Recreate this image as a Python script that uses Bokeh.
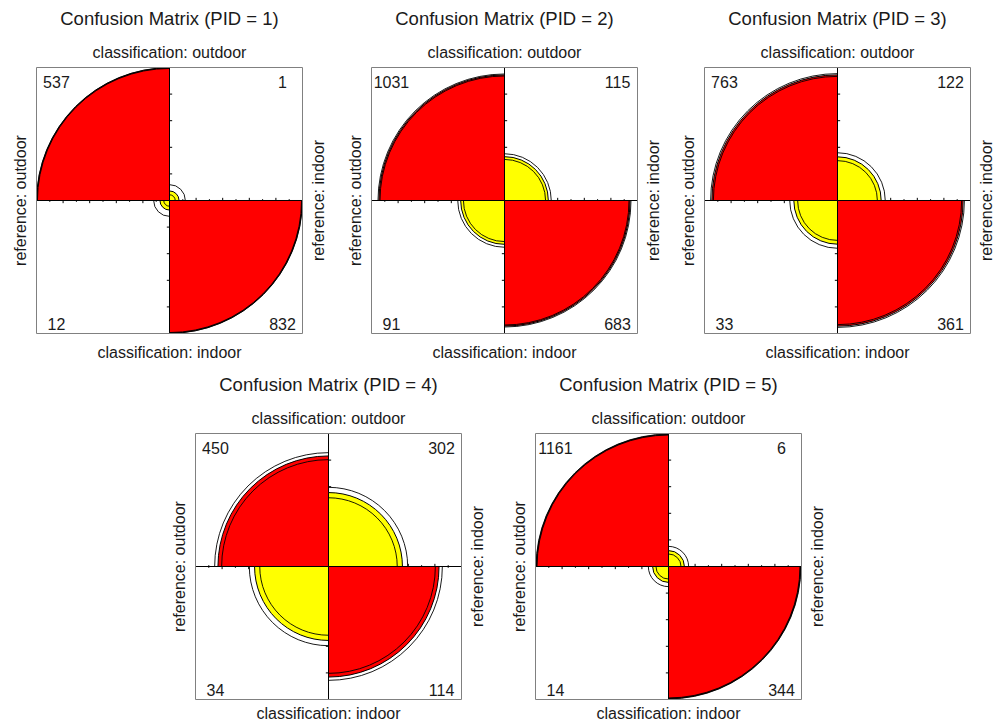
import numpy as np
from bokeh.plotting import figure
from bokeh.models import Range1d, Label, Spacer, ColumnDataSource
from bokeh.layouts import row, column
from bokeh.embed import file_html
from bokeh.resources import INLINE

# ---------------- data ----------------
pid = [1, 2, 3, 4, 5]
# cell counts (reference x classification)
n_top_left = [537, 1031, 763, 450, 1161]      # outdoor / outdoor
n_top_right = [1, 115, 122, 302, 6]           # reference indoor / class. outdoor
n_bottom_left = [12, 91, 33, 34, 14]          # reference outdoor / class. indoor
n_bottom_right = [832, 683, 361, 114, 344]    # indoor / indoor

title_text = "Confusion Matrix (PID = {})"
label_top = "classification: outdoor"
label_bottom = "classification: indoor"
label_left = "reference: outdoor"
label_right = "reference: indoor"

conf_level = 0.95
Z = 1.959963984540054  # qnorm(0.975)

# ---------------- style ----------------
RED = "#FF0000"
YELLOW = "#FFFF00"
FONT = "Liberation Sans"
TXT = "#1a1a1a"
BOX = 266
UNIT = BOX / 2.0
ML = 28
MR = 28
MT = 59

# quadrant angles (deg): TL, TR, BL, BR
Q_START = [90, 0, 180, 270]
Q_END = [180, 90, 270, 360]


def margins_fit(orr):
    s = np.sqrt(orr)
    u = s / (1.0 + s)
    return [u, 1 - u, 1 - u, u]


def make_panel(i, mb, bottom_off):
    a, b, c, d = n_top_left[i], n_top_right[i], n_bottom_left[i], n_bottom_right[i]
    counts = [a, b, c, d]
    orr = (a * d) / (b * c)
    fit = margins_fit(orr)
    big = RED if orr > 1 else YELLOW
    small = YELLOW if orr > 1 else RED
    colors = [big, small, small, big]

    W = BOX + ML + MR
    H = BOX + MT + mb
    p = figure(width=W, height=H,
               x_range=Range1d(-1 - ML / UNIT, 1 + MR / UNIT),
               y_range=Range1d(-1 - mb / UNIT, 1 + MT / UNIT),
               toolbar_location=None, output_backend="svg",
               x_axis_location=None, y_axis_location=None,
               min_border=0, outline_line_color=None,
               background_fill_color="white", border_fill_color="white")
    p.grid.visible = False

    # axes through the centre
    p.segment(x0=[-1, 0], y0=[0, -1], x1=[1, 0], y1=[0, 1],
              line_color="black", line_width=1)
    # tick marks
    hx = np.round(np.arange(-9, 10) / 10.0, 2)
    hx = hx[hx != 0]
    hl = np.where(np.round(np.abs(hx) * 10) % 2 == 0, 0.02, 0.01)
    p.segment(x0=hx, y0=-hl, x1=hx, y1=hl, line_color="black", line_width=1)
    vy = np.array([-0.8, -0.6, -0.4, -0.2, 0.2, 0.4, 0.6, 0.8])
    p.segment(x0=np.full(len(vy), -0.02), y0=vy, x1=np.full(len(vy), 0.02), y1=vy,
              line_color="black", line_width=1)

    # quarter circles
    src = ColumnDataSource(dict(
        x=[0] * 4, y=[0] * 4,
        r=[float(np.sqrt(f)) for f in fit],
        s=Q_START, e=Q_END, col=colors))
    p.wedge(x="x", y="y", radius="r", start_angle="s", end_angle="e",
            start_angle_units="deg", end_angle_units="deg",
            fill_color="col", line_color="black", line_width=1, source=src)

    # confidence rings
    se = np.sqrt(sum(1.0 / n for n in counts))
    for rho in (orr * np.exp(-Z * se), orr * np.exp(Z * se)):
        rf = margins_fit(rho)
        p.arc(x=[0] * 4, y=[0] * 4, radius=[float(np.sqrt(f)) for f in rf],
              start_angle=Q_START, end_angle=Q_END,
              start_angle_units="deg", end_angle_units="deg",
              line_color="black", line_width=0.9)

    # outer box
    p.quad(left=[-1], right=[1], bottom=[-1], top=[1],
           fill_color=None, line_color="#808080", line_width=1)

    # corner counts
    for (x, y, t) in [(-0.85, 0.89, a), (0.85, 0.89, b),
                      (-0.85, -0.925, c), (0.85, -0.925, d)]:
        p.add_layout(Label(x=x, y=y, text=str(t), text_align="center",
                           text_baseline="middle", text_font=FONT,
                           text_font_size="16px", text_color=TXT))

    # titles & margin labels
    p.add_layout(Label(x=0, y=1 + 49 / UNIT, text=title_text.format(pid[i]),
                       text_align="center", text_baseline="middle",
                       text_font=FONT, text_font_size="18.5px", text_color=TXT))
    p.add_layout(Label(x=0, y=1 + 15 / UNIT, text=label_top,
                       text_align="center", text_baseline="middle",
                       text_font=FONT, text_font_size="16px", text_color=TXT))
    p.add_layout(Label(x=0, y=-1 - bottom_off / UNIT, text=label_bottom,
                       text_align="center", text_baseline="middle",
                       text_font=FONT, text_font_size="16px", text_color=TXT))
    p.add_layout(Label(x=-1 - 16 / UNIT, y=0, text=label_left, angle=np.pi / 2,
                       text_align="center", text_baseline="middle",
                       text_font=FONT, text_font_size="16px", text_color=TXT))
    p.add_layout(Label(x=1 + 16 / UNIT, y=0, text=label_right, angle=np.pi / 2,
                       text_align="center", text_baseline="middle",
                       text_font=FONT, text_font_size="16px", text_color=TXT))
    return p


f1 = make_panel(0, 28, 19)
f2 = make_panel(1, 28, 19)
f3 = make_panel(2, 28, 19)
f4 = make_panel(3, 25, 14)
f5 = make_panel(4, 25, 14)

row1 = row(Spacer(width=8, height=10), f1, Spacer(width=13, height=10), f2,
           Spacer(width=11, height=10), f3)
row2 = row(Spacer(width=167, height=10), f4, Spacer(width=18, height=10), f5)
layout = column(Spacer(width=10, height=8), row1, Spacer(width=10, height=13), row2)

open("out.html", "w").write(file_html(layout, INLINE))
